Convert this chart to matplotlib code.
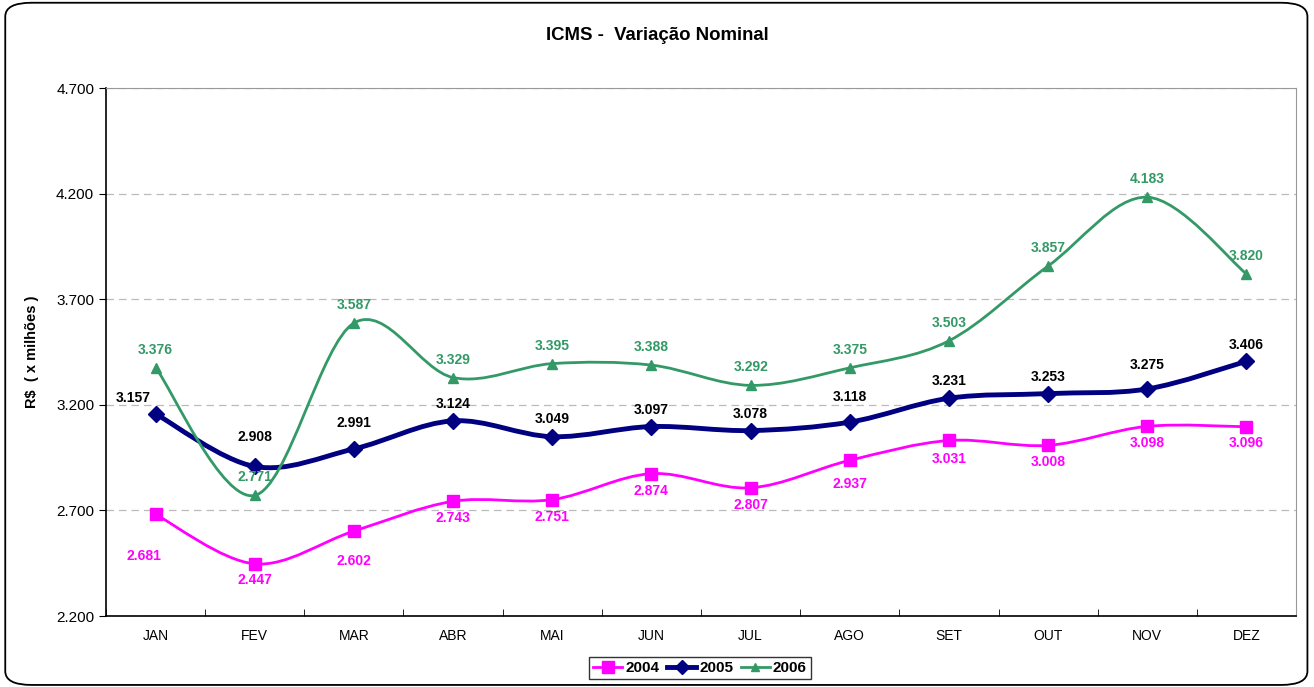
import matplotlib
matplotlib.use("Agg")
import matplotlib.pyplot as plt
import numpy as np
from matplotlib.path import Path
from matplotlib.patches import PathPatch, FancyBboxPatch
from matplotlib.lines import Line2D
from matplotlib.ticker import FuncFormatter

plt.rcParams["font.family"] = ["Liberation Sans", "DejaVu Sans"]

# ---------------------------------------------------------------------------
# Data (R$ x milhões)
# ---------------------------------------------------------------------------
months = ["JAN", "FEV", "MAR", "ABR", "MAI", "JUN",
          "JUL", "AGO", "SET", "OUT", "NOV", "DEZ"]

icms_2004 = [2681, 2447, 2602, 2743, 2751, 2874, 2807, 2937, 3031, 3008, 3098, 3096]
icms_2005 = [3157, 2908, 2991, 3124, 3049, 3097, 3078, 3118, 3231, 3253, 3275, 3406]
icms_2006 = [3376, 2771, 3587, 3329, 3395, 3388, 3292, 3375, 3503, 3857, 4183, 3820]

y_ticks = [2200, 2700, 3200, 3700, 4200, 4700]

# label placement (px offset of label centre from the point), as Excel put them
off_2004 = [(-12, -42), (0, -16), (0, -30), (0, -17), (0, -17), (0, -17),
            (0, -17), (0, -24), (0, -19), (0, -17), (0, -17), (0, -16)]
off_2005 = [(-22, 16), (0, 29), (0, 26), (0, 17), (0, 18), (0, 17),
            (0, 17), (0, 25), (0, 17), (0, 17), (0, 24), (0, 16)]
off_2006 = [(0, 18)] * 12


def fmt_thousands(v):
    return f"{v / 1000:.3f}"


def smooth_path(xs, ys):
    """Excel-like smoothed line as cubic Bezier segments (Catmull-Rom)."""
    pts = np.column_stack([xs, ys]).astype(float)
    n = len(pts)
    verts = [pts[0]]
    codes = [Path.MOVETO]
    for i in range(n - 1):
        p0 = pts[i - 1] if i > 0 else pts[i]
        p1 = pts[i]
        p2 = pts[i + 1]
        p3 = pts[i + 2] if i + 2 < n else pts[i + 1]
        c1 = p1 + (p2 - p0) / 6.0
        c2 = p2 - (p3 - p1) / 6.0
        verts += [c1, c2, p2]
        codes += [Path.CURVE4] * 3
    return Path(verts, codes)


series = [
    ("2004", icms_2004, "#FF00FF", "#FF00FF", 2.0, "s", 9, off_2004),
    ("2005", icms_2005, "#000080", "black", 3.5, "D", 8, off_2005),
    ("2006", icms_2006, "#339966", "#339966", 2.0, "^", 7, off_2006),
]

fig = plt.figure(figsize=(13.14, 6.87), dpi=100)
fig.patches.append(FancyBboxPatch((0.004, 0.003), 0.991, 0.993,
                                  boxstyle="round,pad=0,rounding_size=0.02",
                                  transform=fig.transFigure, fill=False,
                                  edgecolor="black", linewidth=1.3))

ax = fig.add_axes([106 / 1314, 1 - 616 / 687, (1296 - 106) / 1314, (616 - 88) / 687])

x = np.arange(len(months))
handles = []
for name, vals, color, lab_color, lw, marker, ms, offs in series:
    patch = PathPatch(smooth_path(x, vals), facecolor="none", edgecolor=color,
                      linewidth=lw, zorder=3, capstyle="round", joinstyle="round")
    ax.add_patch(patch)
    ax.plot(x, vals, linestyle="none", marker=marker, markersize=ms,
            color=color, zorder=4)
    handles.append(Line2D([], [], color=color, lw=lw, marker=marker,
                          markersize=ms * 0.9))
    for i, v in enumerate(vals):
        dx, dy = offs[i]
        ax.annotate(fmt_thousands(v), (i, v), xytext=(dx * 0.72, dy * 0.72),
                    textcoords="offset points", ha="center", va="center",
                    fontsize=10, fontweight="bold", color=lab_color, zorder=5)

ax.set_xlim(-0.5, len(months) - 0.5)
ax.set_ylim(2200, 4700)
ax.set_yticks(y_ticks)
ax.yaxis.set_major_formatter(FuncFormatter(lambda v, p: fmt_thousands(v)))
ax.set_xticks(x)
ax.set_xticklabels(months)
ax.set_xticks(np.arange(-0.5, len(months)), minor=True)
ax.tick_params(axis="x", which="major", length=0, pad=9, labelsize=10)
ax.tick_params(axis="x", which="minor", length=5, direction="in")
ax.tick_params(axis="y", length=5, direction="out", labelsize=11)

ax.grid(axis="y", linestyle=(0, (6, 4)), color="#BBBBBB", linewidth=0.9)
ax.set_axisbelow(True)
for s in ("top", "right"):
    ax.spines[s].set_color("#999999")
ax.spines["left"].set_linewidth(1.2)
ax.spines["bottom"].set_linewidth(1.2)

ax.set_ylabel("R$  ( x milhões )", fontsize=10.5, fontweight="bold", labelpad=12)
fig.text(657 / 1314, 1 - 35 / 687, "ICMS -  Variação Nominal", ha="center",
         va="center", fontsize=13.4, fontweight="bold")

leg = fig.legend(handles, ["2004", "2005", "2006"], loc="center",
                 bbox_to_anchor=(700 / 1314, 1 - 668 / 687), ncol=3,
                 frameon=True, fancybox=False, handlelength=1.9,
                 handletextpad=0.2, columnspacing=0.5, borderpad=0.25,
                 borderaxespad=0, prop={"weight": "bold", "size": 11})
leg.get_frame().set_edgecolor("black")
leg.get_frame().set_linewidth(1.0)

fig.savefig("out.png", dpi=100)
